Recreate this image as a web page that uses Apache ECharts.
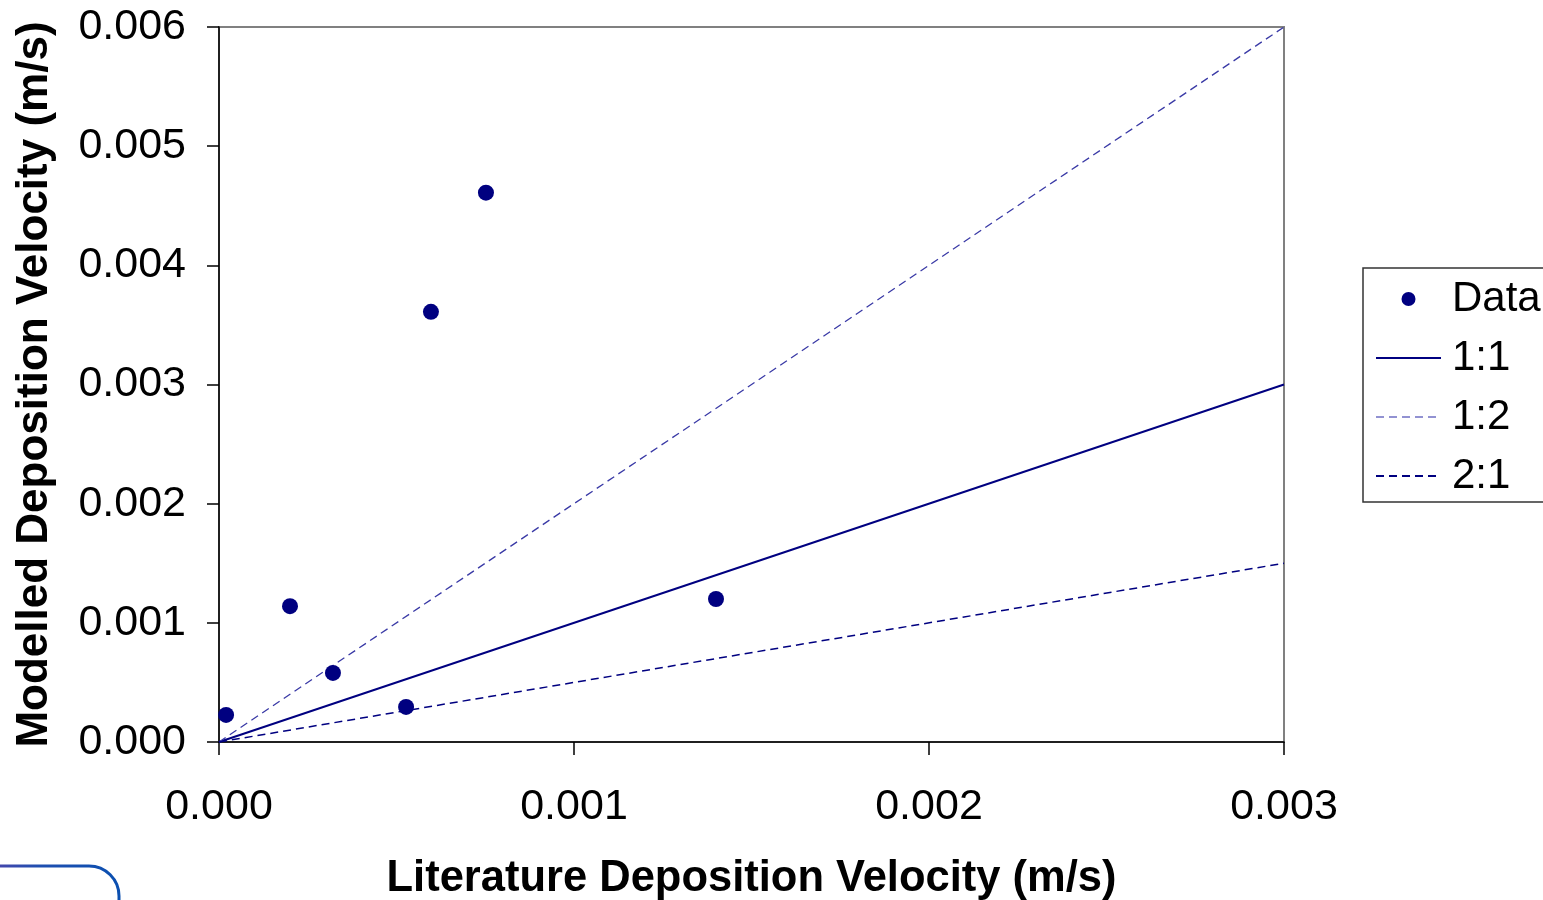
<!DOCTYPE html>
<html>
<head>
<meta charset="utf-8">
<script src="https://cdn.jsdelivr.net/npm/echarts@6/dist/echarts.min.js"></script>
<style>
  html, body { margin: 0; padding: 0; background: #fff; }
  #chart { width: 1543px; height: 900px; }
</style>
</head>
<body>
<div id="chart"></div>
<script>
// Measured points: literature vs modelled deposition velocity (m/s)
const literatureVd = [0.00002, 0.00020, 0.000321, 0.000527, 0.000597, 0.000752, 0.00140];
const modelledVd   = [0.000227, 0.00114, 0.00058, 0.000294, 0.00361, 0.00461, 0.00120];

// Reference lines end points (start at origin)
const lineEndX = [0, 0.003];
const ratio11 = [0, 0.003];
const ratio12 = [0, 0.006];
const ratio21 = [0, 0.0015];

const xTicks = [0, 0.001, 0.002, 0.003];
const yTicks = [0, 0.001, 0.002, 0.003, 0.004, 0.005, 0.006];

const pairs = (xs, ys) => xs.map((x, i) => [x, ys[i]]);
const FONT = 'Liberation Sans, Arial, sans-serif';
const NAVY = '#000080';
const hideSymbol = { color: 'transparent', borderColor: 'transparent', borderWidth: 0 };

const chart = echarts.init(document.getElementById('chart'), null, { renderer: 'canvas' });

chart.setOption({
  backgroundColor: '#ffffff',
  animation: false,
  textStyle: { fontFamily: FONT },
  grid: {
    left: 219, right: 259, top: 27, bottom: 158,
    containLabel: false, outerBoundsMode: 'none',
    show: true, borderColor: '#808080', borderWidth: 2, backgroundColor: 'transparent'
  },
  legend: {
    orient: 'vertical',
    left: 1363, top: 268,
    padding: [7, 200, 2, 12],
    borderColor: '#333', borderWidth: 1.5,
    itemWidth: 65, itemHeight: 14, itemGap: 11,
    textStyle: { fontFamily: FONT, fontSize: 42, color: '#000', lineHeight: 48, padding: [0, 0, 0, 6] },
    data: [
      { name: 'Data', icon: 'circle' },
      { name: '1:1', itemStyle: hideSymbol },
      { name: '1:2', itemStyle: hideSymbol, lineStyle: { color: '#6f6fc4', width: 1.5 } },
      { name: '2:1', itemStyle: hideSymbol }
    ]
  },
  xAxis: {
    type: 'value', min: xTicks[0], max: xTicks[xTicks.length - 1], interval: 0.001,
    name: 'Literature Deposition Velocity (m/s)',
    nameLocation: 'middle', nameGap: 115,
    nameTextStyle: { fontFamily: FONT, fontSize: 43.5, fontWeight: 'bold', color: '#000' },
    axisLine: { show: true, lineStyle: { color: '#000', width: 1.5 } },
    axisTick: { show: true, inside: false, length: 13, lineStyle: { color: '#000', width: 1.5 } },
    axisLabel: { margin: 44, fontFamily: FONT, fontSize: 43, color: '#000', formatter: v => v.toFixed(3) },
    splitLine: { show: false }
  },
  yAxis: {
    type: 'value', min: yTicks[0], max: yTicks[yTicks.length - 1], interval: 0.001,
    name: 'Modelled Deposition Velocity (m/s)',
    nameLocation: 'middle', nameGap: 162,
    nameTextStyle: { fontFamily: FONT, fontSize: 44, fontWeight: 'bold', color: '#000' },
    axisLine: { show: true, lineStyle: { color: '#000', width: 1.5 } },
    axisTick: { show: true, inside: false, length: 12, lineStyle: { color: '#000', width: 1.5 } },
    axisLabel: { margin: 33, fontFamily: FONT, fontSize: 43, color: '#000', formatter: v => v.toFixed(3) },
    splitLine: { show: false }
  },
  series: [
    {
      name: 'Data', type: 'scatter', z: 5,
      symbol: 'circle', symbolSize: 16,
      itemStyle: { color: NAVY, opacity: 1 },
      data: pairs(literatureVd, modelledVd)
    },
    {
      name: '1:1', type: 'line', symbol: 'none', z: 3,
      lineStyle: { color: NAVY, width: 2 },
      itemStyle: { color: NAVY },
      data: pairs(lineEndX, ratio11)
    },
    {
      name: '1:2', type: 'line', symbol: 'none', z: 3,
      lineStyle: { color: '#3a3aa6', width: 1.3, type: [8, 5] },
      itemStyle: { color: '#6b6bc0' },
      data: pairs(lineEndX, ratio12)
    },
    {
      name: '2:1', type: 'line', symbol: 'none', z: 3,
      lineStyle: { color: NAVY, width: 1.5, type: [8, 5] },
      itemStyle: { color: NAVY },
      data: pairs(lineEndX, ratio21)
    }
  ],
  graphic: [
    {
      type: 'rect', silent: true,
      shape: { x: -40, y: 866, width: 159, height: 80, r: 30 },
      style: {
        fill: 'none', lineWidth: 3,
        stroke: new echarts.graphic.LinearGradient(0, 0, 1, 0, [
          { offset: 0, color: '#6a3fa8' },
          { offset: 0.5, color: '#1f4fb0' },
          { offset: 1, color: '#0a4fb0' }
        ])
      }
    }
  ]
});
</script>
</body>
</html>
